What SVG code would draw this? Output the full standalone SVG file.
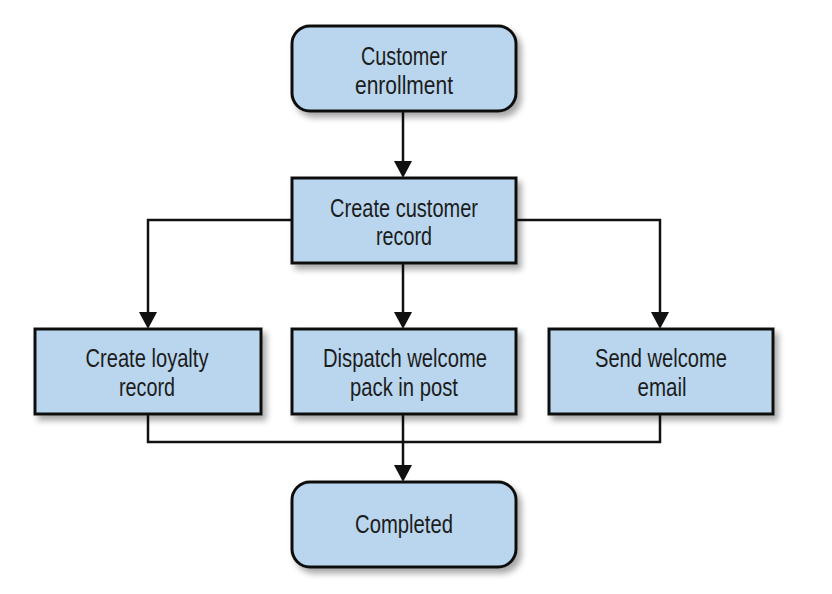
<svg xmlns="http://www.w3.org/2000/svg" width="832" height="594" viewBox="0 0 832 594">
<style>
.box{fill:#b9d6ee;stroke:#111;stroke-width:3;filter:url(#sh)}
.t{font-family:"Liberation Sans",Arial,sans-serif;font-size:25px;fill:#1c1c1c;text-anchor:middle}
.c{fill:none;stroke:#111;stroke-width:2.5}
.ah{fill:#111}
</style>
<defs>
<filter id="sh" x="-10%" y="-20%" width="125%" height="150%">
<feGaussianBlur in="SourceAlpha" stdDeviation="3"/>
<feOffset dx="4" dy="5" result="b"/>
<feComponentTransfer><feFuncA type="linear" slope="0.35"/></feComponentTransfer>
<feMerge><feMergeNode/><feMergeNode in="SourceGraphic"/></feMerge>
</filter>
</defs>
<rect width="832" height="594" fill="#fff"/>
<g id="connectors">
<path class="c" d="M403,111 V163"/>
<polygon class="ah" points="394,161 412,161 403,178"/>
<path class="c" d="M292,220 H148 V314"/>
<polygon class="ah" points="139,312 157,312 148,329"/>
<path class="c" d="M516,220 H660 V314"/>
<polygon class="ah" points="651,312 669,312 660,329"/>
<path class="c" d="M403,263 V314"/>
<polygon class="ah" points="394,312 412,312 403,329"/>
<path class="c" d="M148,414 V442 H660 V414"/>
<path class="c" d="M403,414 V467"/>
<polygon class="ah" points="394,465 412,465 403,482"/>
</g>
<g id="enroll">
<rect class="box" x="292" y="26" width="224" height="85" rx="18"/>
<text class="t" x="404" y="65" textLength="86" lengthAdjust="spacingAndGlyphs">Customer</text>
<text class="t" x="404" y="94" textLength="98" lengthAdjust="spacingAndGlyphs">enrollment</text>
</g>
<g id="create">
<rect class="box" x="292" y="178" width="224" height="85"/>
<text class="t" x="404" y="217" textLength="148" lengthAdjust="spacingAndGlyphs">Create customer</text>
<text class="t" x="404" y="245" textLength="56" lengthAdjust="spacingAndGlyphs">record</text>
</g>
<g id="loyalty">
<rect class="box" x="35" y="329" width="226" height="85"/>
<text class="t" x="147" y="367" textLength="123" lengthAdjust="spacingAndGlyphs">Create loyalty</text>
<text class="t" x="147" y="396" textLength="56" lengthAdjust="spacingAndGlyphs">record</text>
</g>
<g id="dispatch">
<rect class="box" x="292" y="329" width="224" height="85"/>
<text class="t" x="405" y="367" textLength="164" lengthAdjust="spacingAndGlyphs">Dispatch welcome</text>
<text class="t" x="404" y="396" textLength="108" lengthAdjust="spacingAndGlyphs">pack in post</text>
</g>
<g id="email">
<rect class="box" x="549" y="329" width="224" height="85"/>
<text class="t" x="661" y="367" textLength="132" lengthAdjust="spacingAndGlyphs">Send welcome</text>
<text class="t" x="662" y="396" textLength="49" lengthAdjust="spacingAndGlyphs">email</text>
</g>
<g id="completed">
<rect class="box" x="292" y="482" width="224" height="85" rx="18"/>
<text class="t" x="404" y="533" textLength="98" lengthAdjust="spacingAndGlyphs">Completed</text>
</g>
</svg>
